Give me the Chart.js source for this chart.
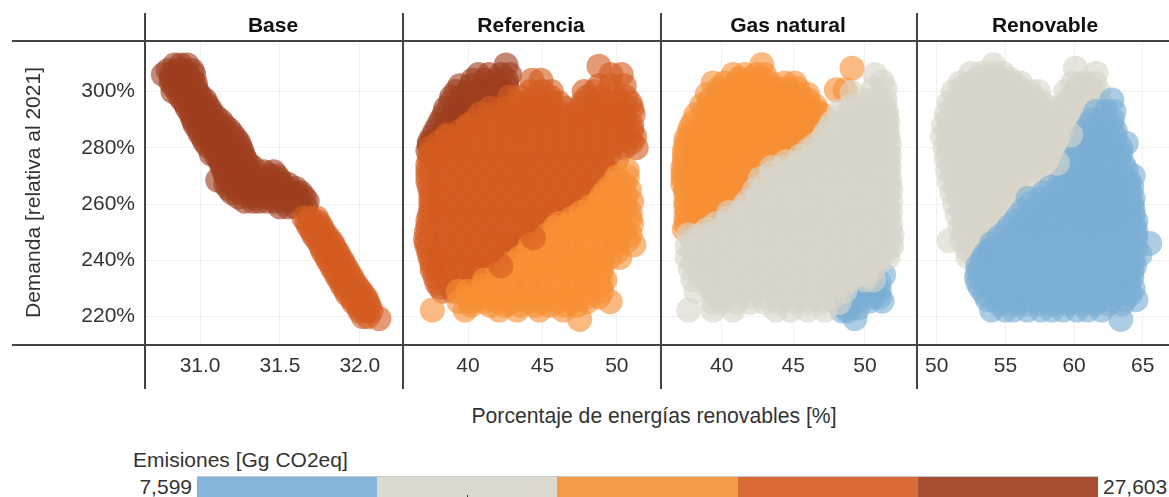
<!DOCTYPE html>
<html lang="es">
<head>
<meta charset="utf-8">
<script src="https://cdn.jsdelivr.net/npm/chart.js@4"></script>
<style>
html,body{margin:0;padding:0;background:#fff;overflow:hidden;width:1169px;height:497px}
body{position:relative;font-family:"Liberation Sans",Arial,sans-serif;color:#333}
canvas{position:absolute;top:0}
.h,.v{position:absolute;background:#444}
.h{left:12px;width:1157px;height:2px}
.v{top:13px;height:376px;width:2px}
.t{position:absolute;white-space:nowrap}
.facet{top:13px;font-weight:bold;font-size:21px;color:#111;transform:translateX(-50%)}
#bar{position:absolute;left:197px;top:476px;width:901px;height:21px;display:flex;border-top:1.5px solid #c9c9c9;box-sizing:border-box}
#bar div{flex:1}
#mark{position:absolute;left:467px;top:495px;width:1px;height:2px;background:#333}
</style>
</head>
<body>
<canvas id="c0" width="403" height="389"></canvas><canvas id="c1" width="257" height="389"></canvas><canvas id="c2" width="256" height="389"></canvas><canvas id="c3" width="257" height="389"></canvas>
<div class="h" style="top:40px"></div><div class="h" style="top:344px"></div>
<div class="v" style="left:144px"></div><div class="v" style="left:402px"></div><div class="v" style="left:660px"></div><div class="v" style="left:916px"></div>
<div class="t facet" style="left:273px">Base</div>
<div class="t facet" style="left:531px">Referencia</div>
<div class="t facet" style="left:788px">Gas natural</div>
<div class="t facet" style="left:1045px">Renovable</div>
<div class="t" style="left:654px;top:404px;font-size:21.2px;transform:translateX(-50%)">Porcentaje de energías renovables [%]</div>
<div class="t" style="left:133px;top:448px;font-size:21px">Emisiones [Gg CO2eq]</div>
<div class="t" style="right:977px;top:475px;font-size:21px">7,599</div>
<div class="t" style="left:1103px;top:475px;font-size:21px">27,603</div>
<div id="bar"></div><div id="mark"></div>
<script>
// ---------- categories and tick labels ----------
const panels = ["Base","Referencia","Gas natural","Renovable"];
const demandTicks = [220,240,260,280,300];
const baseTicks = [31,31.5,32];
const refTicks = [40,45,50];
const gasTicks = [40,45,50];
const renTicks = [50,55,60,65];
const legendColors = ["#85b5d8","#dcd9cf","#f69b48","#d86a35","#a84f33"];

// ---------- series: each row is [demand, renewable share, renewable share, ...] ----------
const baseBrown = [
[309.4,30.84,30.88,30.92],
[307.5,30.8,30.85,30.9,30.95],
[306,30.77,30.82,30.87,30.92,30.96],
[304.5,30.82,30.88,30.94],
[303,30.82,30.87,30.92,30.97],
[301.5,30.84,30.9,30.97],
[300,30.83,30.88,30.93,30.98],
[298.5,30.87,30.92,31.0],
[297,30.89,30.94,31.0,31.03],
[295.5,30.91,30.97,31.04],
[294,30.92,30.97,31.02,31.06],
[292.5,30.94,31,31.07],
[291,30.95,31.0,31.05,31.1],
[289.5,30.96,31.02,31.08,31.13],
[288,30.97,31.02,31.07,31.12,31.15],
[286.5,30.99,31.05,31.11,31.18],
[285,31.0,31.05,31.1,31.15,31.2],
[283.5,31.02,31.08,31.14,31.22],
[282,31.03,31.08,31.13,31.18,31.24],
[280.5,31.05,31.11,31.17,31.25],
[279,31.1,31.15,31.2,31.26],
[277.8,31.07],
[277.5,31.1,31.16,31.27],
[276,31.12,31.17,31.22,31.28],
[274.5,31.13,31.2,31.3],
[273,31.14,31.19,31.24,31.29,31.33],
[271.5,31.15,31.22,31.3,31.4,31.46],
[270,31.16,31.21,31.26,31.31,31.36,31.44,31.48],
[268.5,31.11,31.17,31.25,31.33,31.42,31.5],
[267,31.16,31.21,31.26,31.31,31.36,31.41,31.46,31.51,31.55],
[265.5,31.18,31.27,31.36,31.45,31.54,31.6],
[264,31.2,31.25,31.3,31.35,31.4,31.45,31.5,31.55,31.6,31.63],
[262.5,31.24,31.33,31.42,31.52,31.6,31.65],
[261,31.28,31.33,31.37,31.42,31.47,31.52,31.57,31.62,31.67],
[259,31.5,31.55,31.6,31.66]];
const baseDark = [
[255,31.65,31.69,31.73],
[253.5,31.67,31.74],
[252,31.68,31.72,31.76],
[250.5,31.7,31.77],
[249,31.71,31.75,31.79],
[247.5,31.73,31.81],
[246,31.75,31.79,31.83],
[244.5,31.76,31.84],
[243,31.77,31.82,31.86],
[241.5,31.79,31.87],
[240,31.8,31.85,31.89],
[238.5,31.82,31.9],
[237,31.83,31.87,31.92],
[235.5,31.85,31.93],
[234,31.86,31.9,31.95],
[232.5,31.88,31.96],
[231,31.89,31.93,31.98],
[229.5,31.91,32],
[228,31.92,31.97,32.02],
[226.5,31.95,32.04],
[225,31.96,32.0,32.05],
[223.5,31.99,32.06],
[222,32.0,32.04,32.07],
[220,32.02,32.05],
[219.3,32.12]];

const refBrown = [
[309.4,42.55],
[306,40.7,41.4,42.2,42.8],
[304,40.3,41.1,41.9,42.6],
[302,39.45,40.2,41,41.8,42.6],
[300,39.2,40,40.8,41.6,42.4],
[298,38.9,39.6,40.4,41.2,42],
[296,38.8,39.5,40.3,41.1,41.9],
[294,38.5,39.2,40,40.8],
[292,38.4,39.1,39.9,40.7],
[290,38.2,38.8,39.5,40.2],
[288,38,38.7,39.4],
[286,37.8,38.4,39.1],
[284,37.6,38.2,38.9],
[282,37.4,38,38.6],
[281,37.4,38],
[279,37.3,37.9]];
const refDark = [
[309,48.8],
[306,49.6,50.3],
[304,44.3,44.9],
[302,48.8,49.6,50.5],
[300,44.2,45,45.6,47.8,48.5],
[298,42.8,43.5,44.5,45.5,48,49,50,50.6],
[296,43.3,44,44.8,45.6,46.1,47.7,48.4,49.2,50,50.9],
[294,41.5,42.5,43.5,44.5,45.5,46.5,47.5,48.5,49.5,50.5,51],
[292,40.8,41.6,42.4,43.2,44,44.8,45.6,46.4,47.2,48,48.8,49.6,50.4,51.1],
[290,40.5,41.5,42.5,43.5,44.5,45.5,46.5,47.5,48.5,49.5,50.5],
[288,40,41,42,43,44,45,46,47,48,49,50,51],
[286,39.5,40.5,41.5,42.5,43.5,44.5,45.5,46.5,47.5,48.5,49.5,50.5,51],
[284,38.6,39.5,40.5,41.5,42.5,43.5,44.5,45.5,46.5,47.5,48.5,49.5,50.5,51.2],
[282,38,39,40,41,42,43,44,45,46,47,48,49,50,51],
[280,37.5,38.5,39.5,40.5,41.5,42.5,43.5,44.5,45.5,46.5,47.5,48.5,49.5,50.5,51.3],
[278,37.5,38.5,39.5,40.5,41.5,42.5,43.5,44.5,45.5,46.5,47.5,48.5,49.5],
[276,37.4,38,39,40,41,42,43,44,45,46,47,48,49,50],
[274,37.3,38,39,40,41,42,43,44,45,46,47,48,49],
[272,37.3,38.5,39.5,40.5,41.5,42.5,43.5,44.5,45.5,46.5,47.5,48.5,49.3],
[270,37.3,38.5,39.5,40.5,41.5,42.5,43.5,44.5,45.5,46.5,47.5,48.5],
[268,37.3,38,39,40,41,42,43,44,45,46,47,48,48.6],
[266,37.4,38,39,40,41,42,43,44,45,46,47,48],
[264,37.5,38.5,39.5,40.5,41.5,42.5,43.5,44.5,45.5,46.5,47.5,48.3],
[262,37.5,38.5,39.5,40.5,41.5,42.5,43.5,44.5,45.5,46.5,47.5],
[260,37.5,38,39,40,41,42,43,44,45,46,47,47.6],
[258,37.5,38,39,40,41,42,43,44,45,46,46.5],
[256,37.4,38.5,39.5,40.5,41.5,42.5,43.5,44.5,45.5,46.4],
[254,37.3,38.5,39.5,40.5,41.5,42.5,43.5,44.5,45.5],
[252,37.3,38,39,40,41,42,43,44,45],
[250,37.2,38,39,40,41,42,43,44,44.5],
[247.5,37.15,38.5,39.5,40.5,41.5,42.5,43.5,44],
[246,37.2,38.5,39.5,40.5,41.5,42.5,43.5],
[244,37.3,38,39,40,41,42,43],
[242,37.4,38,39,40,41,42,42.5],
[240,37.5,38.5,39.5,40.5,41.5,42.4],
[238,37.6,38.5,39.5,40.5,41.5],
[236.5,37.6,38,39,40,41,41.8],
[234,37.8,38.5,39.5,40.5],
[232,37.9,38.7,39.6,40.4],
[230.5,38.1,38.8,39.6],
[229,38.3,39]];
const refLight = [
[272,50.7],
[269.6,50,50.7],
[267,49.7,50.5],
[265,49.3,50.1,50.85],
[263,49,49.8,50.6],
[261,48.8,49.6,50.4,51],
[259,48.2,49,49.8,50.6],
[257,47.6,48.4,49.2,50,50.9],
[255,47,47.8,48.6,49.4,50.2,50.9],
[253,46.1,46.9,47.7,48.5,49.3,50.1,51],
[251.7,45.85],
[251,46.5,47.3,48.1,48.9,49.7,50.5],
[249,45.3,46.1,47,48,49,50,50.9],
[247,45,46,47,48,49,50,50.7],
[245.5,44.2,45,46,47,48,49,50,51.15],
[243,44,45,46,47,48,49,50],
[241,43.5,44.5,45.5,46.5,47.5,48.5,49.5,50.2],
[239,43,44,45,46,47,48,49],
[237,42.6,43.5,44.5,45.5,46.5,47.5,48.5,49],
[235,42,43,44,45,46,47,48,48.9],
[233,41.1,42,43,44,45,46,47,48,49.2],
[231,41,42,43,44,45,46,47,48,48.9],
[229,39.35,40,41,42,43,44,45,46,47,48,49],
[227,40,41,42,43,44,45,46,47,48,48.8],
[225.3,39.4,40.2,41,42,43,44,45,46,47,48,49.55],
[224,40.2,41.5,42.5,43.5,44.5,45.5,46.5,47.3],
[222.3,37.6,39.8,42.1,43.3,44.8,46.4],
[219,47.5]];
const refDarkTop = [
[248,44.4],
[238,42.2],
[287.5,40],
[284.6,38.6],
[278,37.5]];

const gasOrange = [
[309.5,42.8],
[308.3,49.1],
[306,40.8,41.6,42.4,43],
[304.5,41.2,42,42.8],
[303,39.4,40.2,41,41.8,42.6,43.4,44.4,45.1],
[301,39.8,40.6,41.4,42.2,43,43.8,44.5,45.3],
[300.6,48,48.6],
[299,39,39.8,40.6,41.4,42.2,43,43.8,44.6,45.4,46],
[297,39.2,40,41,42,43,44,45,46],
[295,38.6,39.4,40.2,41,41.8,42.6,43.4,44.2,45,45.8,46.5],
[293,38.8,39.6,40.4,41.2,42,42.8,43.6,44.4,45.2,46,46.7],
[291.7,38.2,39,39.8,40.6,41.4,42.2,43,43.8,44.6,45.4,46.2,47],
[289,38,38.8,39.6,40.4,41.2,42,42.8,43.6,44.4,45.2,46,46.5],
[287,37.8,38.6,39.4,40.2,41,41.8,42.6,43.4,44.2,45,45.8,46.4],
[285,37.7,38.5,39.3,40.1,40.9,41.7,42.5,43.3,44.1,44.9,45.7],
[283,37.5,38.3,39.1,39.9,40.7,41.5,42.3,43.1,43.9,44.7,45.5,45.9],
[281,37.5,38.3,39.1,39.9,40.7,41.5,42.3,43.1,43.9,44.7,45.2],
[279,37.4,38.2,39,39.8,40.6,41.4,42.2,43,43.8,44.6,45],
[277,37.4,38.2,39,39.8,40.6,41.4,42.2,43,43.8,44.6],
[275,37.4,38.2,39,39.8,40.6,41.4,42.2,43,43.8,44.4],
[273,37.3,38.2,39,39.8,40.6,41.4,42.2,43,44],
[271,37.3,38,38.8,39.6,40.4,41.2,42,42.8,43.5],
[269,37.3,38.2,39,40,41,42,43],
[267,37.3,38,39,40,41,42],
[265,37.5,38.3,39,40,41,41.5],
[263.8,37.5,38.3,39.1,40,41],
[261,37.5,38.3,39,40,40.5],
[259,37.5,38.3,39.1,40],
[257,37.6,38.4,39.2],
[255.5,37.5,38.3,39.1],
[253,37.5,38.3],
[251,37.4]];
const gasBlue = [
[234.8,50.2,51.3],
[232,50.4,51],
[229.4,49,49.8,50.2,50.7,51],
[227,48.5,49.5,50.5,51],
[225.5,47.9,48.7,49.5,50.3,51.2],
[223,48.7,49.5],
[222,48.4,48.8],
[219.3,49.3]];
const gasBeige = [
[306,50.7],
[303.5,51.2],
[301,50.6,51.4],
[299.6,49.1],
[297,50,50.8,51.4],
[295,49,49.8,50.6,51.3],
[293,48.2,49,49.8,50.6,51.5],
[291,48.2,49,49.8,50.6,51.5],
[289,47.7,48.5,49.3,50.1,50.9,51.6],
[287,47.5,48.5,49.5,50.5,51.5],
[285,47.2,48,48.8,49.6,50.4,51.2,51.6],
[283,47,48,49,50,51,51.6],
[281,46.5,47.3,48.1,48.9,49.7,50.5,51.3,51.7],
[279,46,47,48,49,50,51,51.6],
[277,45.5,46.3,47.1,47.9,48.7,49.5,50.3,51.1,51.7],
[275,44.5,45.5,46.5,47.5,48.5,49.5,50.5,51.6],
[273,43.5,44.3,45.1,45.9,46.7,47.5,48.3,49.1,49.9,50.7,51.7],
[271,43.5,44.5,45.5,46.5,47.5,48.5,49.5,50.5,51.6],
[269,42.7,43.5,44.5,45.5,46.5,47.5,48.5,49.5,50.5,51.7],
[267,43,44,45,46,47,48,49,50,51,51.7],
[265,42.3,43,44,45,46,47,48,49,50,51,51.8],
[263,42.5,43.5,44.5,45.5,46.5,47.5,48.5,49.5,50.5,51.6],
[261,41.8,42.5,43.5,44.5,45.5,46.5,47.5,48.5,49.5,50.5,51.8],
[259,41.5,42.5,43.5,44.5,45.5,46.5,47.5,48.5,49.5,50.5,51.6],
[257,40.5,41.3,42,43,44,45,46,47,48,49,50,51,51.8],
[255,40.5,41.5,42.5,43.5,44.5,45.5,46.5,47.5,48.5,49.5,50.5,51.6],
[253,39.6,40.4,41.5,42.5,43.5,44.5,45.5,46.5,47.5,48.5,49.5,50.5,51.8],
[251,39,40,41,42,43,44,45,46,47,48,49,50,51,51.7],
[249,37.7,38.5,39.4,40.2,41,42,43,44,45,46,47,48,49,50,51,51.9],
[247,38,39,40,41,42,43,44,45,46,47,48,49,50,51,51.8],
[245,37.6,38.5,39.5,40.5,41.5,42.5,43.5,44.5,45.5,46.5,47.5,48.5,49.5,50.5,51.85],
[243,38,39,40,41,42,43,44,45,46,47,48,49,50,51,51.5],
[241,37.6,38.3,39,40,41,42,43,44,45,46,47,48,49,50,51,51.6],
[239,38,39,40,41,42,43,44,45,46,47,48,49,50,50.5],
[237,37.8,38.5,39.5,40.5,41.5,42.5,43.5,44.5,45.5,46.5,47.5,48.5,49.5,50.6],
[235,38.5,39.5,40.5,41.5,42.5,43.5,44.5,45.5,46.5,47.5,48.5,49.5,50],
[233,38,39,40,41,42,43,44,45,46,47,48,49,50,50.6],
[231,39,40,41,42,43,44,45,46,47,48,48.5],
[229,38.2,39.4,40.4,41.4,42.4,43.4,44.4,45.4,46.4,47.4,48.6],
[227,39.7,41,42,43,44,45,46,47,47.8],
[225,39.4,40,41,42,43,44,45,46,47,48.2],
[222.3,37.7,39.4,40.8,43.8,44.8,46,47.2]];

const renBeige = [
[309.5,54.14],
[308.3,60.1],
[306.5,52.5,53.3,54.1,54.8,61.6],
[304.5,52.9,53.7,54.5,55.3],
[303,51.7,52.5,53.3,54.1,54.9,55.6,56.1,59.9,60.7,61.5],
[301.5,51.9,52.7,53.5,54.3,55.1,55.9,60.3,61.2],
[300,51.2,52,52.8,53.6,54.4,55.2,56,56.8,57.4,59.4,60.1,60.9,61.8],
[298,51.5,52.3,53.1,53.9,54.7,55.5,56.3,57,59.8,60.6,61.5],
[296,50.9,51.7,52.5,53.3,54.1,54.9,55.7,56.5,57.3,57.7,59.4,60.3,61,61.9],
[294,51.2,52,52.8,53.6,54.4,55.2,56,56.8,57.6,58.4,59.2,60,60.8],
[292,50.7,51.5,52.3,53.1,53.9,54.7,55.5,56.3,57.1,57.9,58.7,59.5,60.5],
[290,50.9,51.7,52.5,53.3,54.1,54.9,55.7,56.5,57.3,58.1,58.9,59.5],
[288,50.5,51.3,52.1,52.9,53.7,54.5,55.3,56.1,56.9,57.7,58.5,59.3,59.8],
[286,50.8,51.6,52.4,53.2,54,54.8,55.6,56.4,57.2,58,58.8,59],
[284,50.4,51.2,52,52.8,53.6,54.4,55.2,56,56.8,57.6,58.4,59.2],
[282,50.8,51.6,52.4,53.2,54,54.8,55.6,56.4,57.2,58,58.8],
[280,50.6,51.4,52.2,53,53.8,54.6,55.4,56.2,57,57.8,58.6,59],
[278,50.9,51.7,52.5,53.3,54.1,54.9,55.7,56.5,57.3,58.2],
[276,50.7,51.5,52.3,53.1,53.9,54.7,55.5,56.3,57.1,57.9,58.3],
[274,51,51.8,52.6,53.4,54.2,55,55.8,56.6,57.4,57.9],
[272,50.8,51.6,52.4,53.2,54,54.8,55.6,56.4,57.2,57.7],
[270,51.2,52,52.8,53.6,54.4,55.2,56,56.8],
[268,50.9,51.7,52.5,53.3,54.1,54.9,55.7,56.3],
[266,51.4,52.2,53,53.8,54.6,55.4,55.8],
[264,51.1,51.9,52.7,53.5,54.3,55,55.4],
[262,51.6,52.4,53.2,54,54.8],
[260,51.3,52.1,52.9,53.7,54.5],
[258,51.8,52.6,53.4,54.3],
[256,51.5,52.3,53.1,53.9,54.3],
[254,52,52.8,53.6,53.9],
[252,51.7,52.5,53.3,53.7],
[250,52,52.8,53.4],
[247,50.9,51.8,52.6,53.2],
[246,52.4,53.2],
[244,52.2,53],
[241,52.3,52.8]];
const renBlue = [
[297,62.75],
[293,61.6,62.3,62.9],
[290,61.3,62,62.8],
[288,61.1,61.9,62.7],
[286,60.8,61.5,62.3,63],
[284,60.6,61.4,62.2,63],
[281.6,60.6,61.4,62.2,63,63.8],
[280,60.4,61.2,62,62.8,63.4],
[278,60.2,61,61.8,62.6,63.4],
[276,60,60.8,61.6,62.4,63.3],
[274,59.8,60.6,61.4,62.2,63,63.6],
[272,59.6,60.4,61.2,62,62.8,63.8],
[270,59.4,60.2,61,61.8,62.6,63.4,64.3],
[268,59,59.8,60.6,61.4,62.2,63,63.8,64],
[266,58.3,59.1,59.9,60.7,61.5,62.3,63.1,63.9,64.2],
[264,57.8,58.6,59.4,60.2,61,61.8,62.6,63.4,64.1],
[262,56.65,57.5,58.3,59.1,59.9,60.7,61.5,62.3,63.1,63.9,64.3],
[260,56.8,57.6,58.4,59.2,60,60.8,61.6,62.4,63.2,64,64.2],
[258,56.3,57.1,57.9,58.7,59.5,60.3,61.1,61.9,62.7,63.5,64.3],
[256,56,56.8,57.6,58.4,59.2,60,60.8,61.6,62.4,63.2,64,64.3],
[254,55.7,56.5,57.3,58.1,58.9,59.7,60.5,61.3,62.1,62.9,63.7,64.5],
[252,55.3,56.1,56.9,57.7,58.5,59.3,60.1,60.9,61.7,62.5,63.3,64.4],
[250,55,55.8,56.6,57.4,58.2,59,59.8,60.6,61.4,62.2,63,63.8,64.5],
[248,54.5,55.5,56.5,57.5,58.5,59.5,60.5,61.5,62.5,63.5,64.5],
[246,54,55,56,57,58,59,60,61,62,63,64,65.5],
[244,54,55,56,57,58,59,60,61,62,63,64,64.5],
[243,53.8],
[242,53.5,54.5,55.5,56.5,57.5,58.5,59.5,60.5,61.5,62.5,63.5,64.8],
[240,53.3,54.3,55.3,56.3,57.3,58.3,59.3,60.3,61.3,62.3,63.3,64.3],
[238,53,54,55,56,57,58,59,60,61,62,63,64.4],
[236,53,54,55,56,57,58,59,60,61,62,63,64.2],
[234,52.9,53.7,54.7,55.7,56.7,57.7,58.7,59.7,60.7,61.7,62.7,63.7,64.2],
[232,53,54,55,56,57,58,59,60,61,62,63,64],
[230,53.2,54,55,56,57,58,59,60,61,62,63,64.3],
[228,53.5,54.5,55.5,56.5,57.5,58.5,59.5,60.5,61.5,62.5,63.5,64.1],
[226,53.7,54.7,55.7,56.7,57.7,58.7,59.7,60.7,61.7,62.7,63.7,64.5],
[224.5,54.5,55.5,56.5,57.5,58.5,59.5,60.5,61.5,62.5,63.5],
[222.3,54,55,55.6,56.6,57.6,58.4,59.2,60.2,61,62],
[219,63.4]];
const renBeigeTop = [
[284.6,59.76],
[274.5,58.8]];

// ---------- drawing ----------
const brown="rgba(158,63,32,A)",dark="rgba(211,92,32,A)",light="rgba(247,144,53,A)",beige="rgba(216,213,201,A)",blue="rgba(122,174,213,A)";
const ALPHA="0.62";
const pts = rows => rows.flatMap(([y,...xs]) => xs.map(x => ({x,y})));
const ds = (rows,col,i) => ({data:pts(rows),backgroundColor:col.replace("A",ALPHA),borderWidth:0,pointRadius:12.5,pointHoverRadius:12.5,order:i});

legendColors.forEach(c=>{const d=document.createElement("div");d.style.background=c;document.getElementById("bar").appendChild(d);});

const tickFont = {family:'"Liberation Sans",Arial,sans-serif',size:21};
const defs = [
 {id:"c0",left:0,w:403,axis:145,min:30.655,max:32.27,ticks:baseTicks,fmt:v=>v.toFixed(1),sets:[[baseBrown,brown],[baseDark,dark]]},
 {id:"c1",left:403,w:257,axis:0,min:35.63,max:52.9,ticks:refTicks,fmt:v=>String(v),sets:[[refBrown,brown],[refDark,dark],[refLight,light],[refDarkTop,dark]]},
 {id:"c2",left:660,w:256,axis:0,min:35.7,max:53.56,ticks:gasTicks,fmt:v=>String(v),sets:[[gasOrange,light],[gasBlue,blue],[gasBeige,beige]]},
 {id:"c3",left:916,w:257,axis:0,min:48.7,max:67.2,ticks:renTicks,fmt:v=>String(v),sets:[[renBeige,beige],[renBlue,blue],[renBeigeTop,beige]]}
];
defs.forEach((d,k)=>{
 const cv=document.getElementById(d.id);
 cv.style.left=d.left+"px";
 new Chart(cv,{
  type:"scatter",
  data:{datasets:d.sets.map((s,i)=>ds(s[0],s[1],d.sets.length-i))},
  options:{
   responsive:false,animation:false,devicePixelRatio:1,
   layout:{autoPadding:false,padding:{top:40,left:0,right:0,bottom:0}},
   plugins:{legend:{display:false},tooltip:{enabled:false},title:{display:false}},
   scales:{
    x:{type:"linear",position:"bottom",min:d.min,max:d.max,
       afterBuildTicks:s=>{s.ticks=d.ticks.map(v=>({value:v}));},
       afterFit:s=>{s.height=44;},
       border:{display:false},
       grid:{color:"#f1f1f1",lineWidth:1,drawTicks:false},
       ticks:{padding:9,color:"#333",font:tickFont,maxRotation:0,autoSkip:false,callback:v=>d.fmt(v)}},
    y:{type:"linear",position:"left",min:209.9,max:318.3,display:true,
       afterBuildTicks:s=>{s.ticks=demandTicks.map(v=>({value:v}));},
       afterFit:s=>{s.width=d.axis;},
       border:{display:false},
       grid:{color:"#f1f1f1",lineWidth:1,drawTicks:false},
       title:{display:k===0,text:"Demanda [relativa al 2021]",color:"#333",font:{family:tickFont.family,size:21},padding:{top:22,bottom:0}},
       ticks:{display:k===0,padding:10,color:"#333",font:tickFont,callback:v=>v+"%"}}
   }
  }
 });
});
</script>
</body>
</html>
